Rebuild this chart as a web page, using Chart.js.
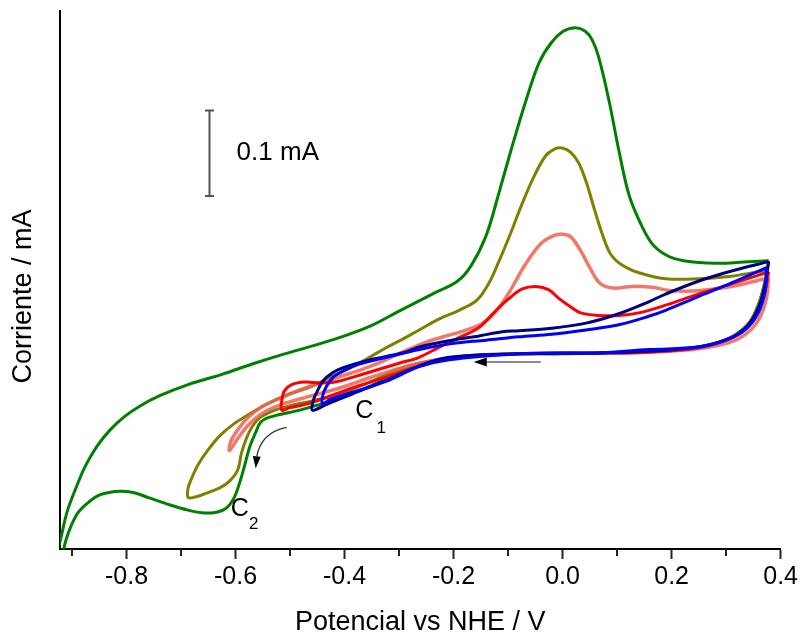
<!DOCTYPE html>
<html><head><meta charset="utf-8">
<script src="https://cdn.jsdelivr.net/npm/chart.js@4.4.0/dist/chart.umd.min.js"></script>
<style>html,body{margin:0;padding:0;background:#fff;}canvas{display:block;}</style>
</head><body>
<canvas id="c" width="801" height="634"></canvas>
<script>
// ---- Data (potential in V vs NHE, current in mA, arbitrary zero) ----
const xMajorTicks = [-0.8, -0.6, -0.4, -0.2, 0.0, 0.2, 0.4];
const xMinorTicks = [-0.9, -0.7, -0.5, -0.3, -0.1, 0.1, 0.3];

const greenE = [0.378,0.372,0.361,0.343,0.313,0.268,0.213,0.140,0.066,0.000,-0.080,-0.153,-0.208,-0.263,-0.294,-0.354,-0.415,-0.477,-0.537,-0.554,-0.563,-0.574,-0.583,-0.592,-0.603,-0.618,-0.640,-0.662,-0.687,-0.720,-0.757,-0.784,-0.808,-0.830,-0.852,-0.872,-0.889,-0.902,-0.911,-0.918,-0.921,-0.929,-0.924,-0.918,-0.909,-0.894,-0.876,-0.854,-0.830,-0.805,-0.775,-0.739,-0.687,-0.625,-0.565,-0.510,-0.455,-0.400,-0.351,-0.300,-0.239,-0.193,-0.168,-0.140,-0.117,-0.093,-0.067,-0.043,-0.021,0.002,0.024,0.041,0.054,0.066,0.085,0.103,0.121,0.140,0.163,0.189,0.222,0.281,0.341,0.378];
const greenI = [0.108,0.085,0.060,0.036,0.020,0.009,0.004,0.001,0.000,-0.001,-0.001,-0.002,-0.006,-0.013,-0.021,-0.039,-0.054,-0.066,-0.075,-0.081,-0.093,-0.110,-0.131,-0.151,-0.170,-0.182,-0.187,-0.187,-0.184,-0.178,-0.170,-0.164,-0.162,-0.163,-0.167,-0.176,-0.187,-0.203,-0.219,-0.238,-0.249,-0.254,-0.228,-0.210,-0.186,-0.160,-0.133,-0.109,-0.090,-0.075,-0.062,-0.050,-0.037,-0.025,-0.012,-0.001,0.009,0.020,0.032,0.049,0.069,0.084,0.102,0.138,0.187,0.241,0.296,0.340,0.363,0.377,0.381,0.377,0.367,0.347,0.296,0.238,0.187,0.156,0.129,0.115,0.108,0.105,0.107,0.108];

const oliveE = [0.374,0.370,0.359,0.341,0.312,0.249,0.176,0.066,-0.080,-0.208,-0.263,-0.300,-0.354,-0.409,-0.459,-0.501,-0.532,-0.556,-0.570,-0.580,-0.589,-0.596,-0.611,-0.629,-0.653,-0.676,-0.687,-0.687,-0.680,-0.669,-0.651,-0.629,-0.603,-0.578,-0.543,-0.501,-0.464,-0.428,-0.391,-0.354,-0.327,-0.294,-0.263,-0.226,-0.190,-0.157,-0.135,-0.117,-0.096,-0.076,-0.053,-0.031,-0.014,-0.001,0.015,0.030,0.044,0.059,0.074,0.088,0.109,0.140,0.189,0.249,0.310,0.374];
const oliveI = [0.097,0.080,0.056,0.034,0.019,0.007,0.002,0.000,-0.001,-0.006,-0.012,-0.019,-0.034,-0.048,-0.056,-0.062,-0.068,-0.076,-0.087,-0.100,-0.117,-0.137,-0.150,-0.158,-0.164,-0.169,-0.169,-0.158,-0.146,-0.131,-0.114,-0.097,-0.083,-0.073,-0.060,-0.048,-0.040,-0.029,-0.018,-0.005,0.005,0.016,0.027,0.040,0.050,0.062,0.082,0.107,0.139,0.172,0.206,0.231,0.239,0.240,0.235,0.222,0.199,0.167,0.137,0.116,0.103,0.094,0.087,0.087,0.090,0.097];

const salmonE = [0.378,0.374,0.363,0.345,0.313,0.249,0.158,0.066,-0.080,-0.208,-0.263,-0.300,-0.354,-0.409,-0.477,-0.519,-0.552,-0.576,-0.596,-0.611,-0.609,-0.596,-0.578,-0.552,-0.519,-0.477,-0.415,-0.354,-0.294,-0.245,-0.208,-0.181,-0.149,-0.122,-0.098,-0.069,-0.040,-0.014,0.001,0.015,0.032,0.050,0.068,0.092,0.127,0.163,0.200,0.249,0.310,0.378];
const salmonI = [0.088,0.064,0.043,0.027,0.014,0.005,0.001,0.000,-0.001,-0.006,-0.012,-0.018,-0.029,-0.041,-0.053,-0.061,-0.071,-0.084,-0.100,-0.114,-0.104,-0.090,-0.076,-0.063,-0.053,-0.042,-0.029,-0.016,0.001,0.014,0.021,0.026,0.034,0.049,0.071,0.103,0.128,0.138,0.139,0.136,0.121,0.100,0.082,0.076,0.078,0.077,0.073,0.073,0.078,0.088];

const redE = [0.378,0.372,0.361,0.343,0.312,0.249,0.158,0.066,-0.080,-0.208,-0.263,-0.323,-0.386,-0.446,-0.477,-0.501,-0.515,-0.515,-0.510,-0.497,-0.473,-0.446,-0.418,-0.373,-0.300,-0.263,-0.226,-0.190,-0.153,-0.122,-0.098,-0.074,-0.049,-0.025,-0.007,0.015,0.033,0.066,0.103,0.140,0.189,0.249,0.310,0.378];
const redI = [0.095,0.074,0.053,0.033,0.018,0.006,0.001,0.000,-0.001,-0.006,-0.015,-0.028,-0.041,-0.055,-0.061,-0.064,-0.067,-0.055,-0.044,-0.037,-0.034,-0.035,-0.034,-0.026,-0.012,-0.005,0.007,0.018,0.030,0.050,0.064,0.075,0.078,0.074,0.064,0.054,0.047,0.044,0.044,0.047,0.056,0.069,0.081,0.095];

const navyE = [0.378,0.372,0.361,0.341,0.310,0.249,0.158,0.066,-0.080,-0.208,-0.263,-0.323,-0.386,-0.433,-0.459,-0.457,-0.451,-0.440,-0.422,-0.397,-0.354,-0.294,-0.263,-0.203,-0.153,-0.111,-0.080,-0.020,0.043,0.103,0.158,0.189,0.249,0.310,0.378];
const navyI = [0.107,0.082,0.056,0.033,0.018,0.007,0.002,0.000,-0.001,-0.005,-0.015,-0.032,-0.048,-0.060,-0.067,-0.055,-0.046,-0.033,-0.023,-0.016,-0.008,0.000,0.007,0.015,0.020,0.025,0.026,0.029,0.035,0.046,0.060,0.069,0.084,0.096,0.107];

const blueE = [0.374,0.372,0.359,0.335,0.299,0.249,0.158,0.066,0.000,-0.080,-0.208,-0.263,-0.323,-0.386,-0.428,-0.440,-0.440,-0.433,-0.420,-0.400,-0.373,-0.323,-0.263,-0.203,-0.140,-0.080,-0.020,0.043,0.103,0.158,0.189,0.249,0.310,0.374];
const blueI = [0.100,0.074,0.047,0.027,0.015,0.007,0.004,0.000,0.000,-0.001,-0.008,-0.016,-0.033,-0.046,-0.055,-0.060,-0.050,-0.039,-0.028,-0.020,-0.013,-0.005,0.004,0.011,0.015,0.019,0.022,0.027,0.033,0.043,0.050,0.066,0.082,0.100];

// ---- Annotation anchors (data coordinates) ----
const scaleBar = { x: -0.648, y0: 0.184, len: 0.1, label: '0.1 mA', labelX: -0.598 };
const sweepArrow = { y: -0.0105, xFrom: -0.040, xTo: -0.163 };
const curvedArrow = { s: [-0.506, -0.087], c: [-0.553, -0.093], e: [-0.561, -0.121], tip: [-0.563, -0.135] };
const peakLabels = [
  { main: 'C', sub: '1', x: -0.3636, y: -0.0679, sx: -0.3326, sy: -0.0878 },
  { main: 'C', sub: '2', x: -0.5923, y: -0.1827, sx: -0.5667, sy: -0.2002 }
];

function zip(E, I) {
  const n = Math.min(E.length, I.length);
  const out = [];
  for (let i = 0; i < n; i++) out.push({ x: E[i], y: I[i] });
  return out;
}

const FONT = '"Liberation Sans", Arial, Helvetica, sans-serif';

function ds(E, I, color, width) {
  return { data: zip(E, I), borderColor: color, borderWidth: width, showLine: true,
           pointRadius: 0, tension: 0.35, fill: false, clip: 0 };
}

const annotPlugin = {
  id: 'annot',
  afterDraw(chart) {
    const { ctx, chartArea } = chart;
    const xs = chart.scales.x, ys = chart.scales.y;
    const px = v => xs.getPixelForValue(v), py = v => ys.getPixelForValue(v);
    ctx.save();
    // minor ticks
    ctx.strokeStyle = '#222'; ctx.lineWidth = 2;
    xMinorTicks.forEach(v => {
      const X = Math.round(px(v));
      ctx.beginPath(); ctx.moveTo(X, chartArea.bottom); ctx.lineTo(X, chartArea.bottom + 7); ctx.stroke();
    });
    // y title
    ctx.save();
    ctx.translate(chartArea.left - 36.5, (chartArea.top + chartArea.bottom) / 2 + 16.5);
    ctx.rotate(-Math.PI / 2);
    ctx.fillStyle = '#000'; ctx.font = '27px ' + FONT;
    ctx.textAlign = 'center'; ctx.textBaseline = 'middle';
    ctx.fillText('Corriente / mA', 0, 0);
    ctx.restore();
    // scale bar
    const bx = Math.round(px(scaleBar.x)) + 0.5;
    const b0 = py(scaleBar.y0), b1 = py(scaleBar.y0 + scaleBar.len);
    ctx.strokeStyle = '#555'; ctx.lineWidth = 2;
    ctx.beginPath();
    ctx.moveTo(bx, b0); ctx.lineTo(bx, b1);
    ctx.moveTo(bx - 4.5, b0); ctx.lineTo(bx + 4.5, b0);
    ctx.moveTo(bx - 4.5, b1); ctx.lineTo(bx + 4.5, b1);
    ctx.stroke();
    ctx.fillStyle = '#000'; ctx.font = '26px ' + FONT;
    ctx.textAlign = 'left'; ctx.textBaseline = 'middle';
    ctx.fillText(scaleBar.label, px(scaleBar.labelX), (b0 + b1) / 2);
    // sweep direction arrow
    const ay = py(sweepArrow.y);
    const ax0 = px(sweepArrow.xFrom), axTip = px(sweepArrow.xTo);
    ctx.strokeStyle = '#8a8a8a'; ctx.lineWidth = 2;
    ctx.beginPath(); ctx.moveTo(ax0, ay); ctx.lineTo(axTip + 10, ay); ctx.stroke();
    ctx.fillStyle = '#000';
    ctx.beginPath(); ctx.moveTo(axTip, ay); ctx.lineTo(axTip + 13, ay - 4.5); ctx.lineTo(axTip + 13, ay + 4.5); ctx.closePath(); ctx.fill();
    // curved arrow
    const S = [px(curvedArrow.s[0]), py(curvedArrow.s[1])];
    const C = [px(curvedArrow.c[0]), py(curvedArrow.c[1])];
    const E = [px(curvedArrow.e[0]), py(curvedArrow.e[1])];
    const T = [px(curvedArrow.tip[0]), py(curvedArrow.tip[1])];
    ctx.strokeStyle = '#333'; ctx.lineWidth = 1.3;
    ctx.beginPath(); ctx.moveTo(S[0], S[1]); ctx.quadraticCurveTo(C[0], C[1], E[0], E[1]); ctx.stroke();
    const dx = T[0] - E[0], dy = T[1] - E[1], L = Math.hypot(dx, dy);
    const nx = -dy / L * 4, ny = dx / L * 4;
    ctx.fillStyle = '#000';
    ctx.beginPath(); ctx.moveTo(T[0], T[1]); ctx.lineTo(E[0] + nx, E[1] + ny); ctx.lineTo(E[0] - nx, E[1] - ny); ctx.closePath(); ctx.fill();
    // peak labels
    peakLabels.forEach(l => {
      ctx.fillStyle = '#000'; ctx.textAlign = 'center'; ctx.textBaseline = 'middle';
      ctx.font = '25px ' + FONT; ctx.fillText(l.main, px(l.x), py(l.y));
      ctx.font = '17px ' + FONT; ctx.fillText(l.sub, px(l.sx), py(l.sy));
    });
    ctx.restore();
  }
};

new Chart(document.getElementById('c'), {
  type: 'scatter',
  data: {
    datasets: [
      ds(blueE, blueI, '#0000ff', 3),
      ds(navyE, navyI, '#000080', 3),
      ds(redE, redI, '#ff0000', 3),
      ds(salmonE, salmonI, 'rgba(240,96,80,0.85)', 3.5),
      ds(oliveE, oliveI, '#808000', 3),
      ds(greenE, greenI, '#008000', 3)
    ]
  },
  options: {
    responsive: false,
    animation: false,
    devicePixelRatio: 1,
    layout: { padding: { top: 11, right: 19.3, left: 0, bottom: 0 } },
    plugins: { legend: { display: false }, tooltip: { enabled: false } },
    scales: {
      x: {
        type: 'linear', position: 'bottom', min: -0.922, max: 0.4,
        afterFit: s => { s.height = 85; },
        afterBuildTicks: s => { s.ticks = xMajorTicks.map(v => ({ value: v })); },
        ticks: {
          font: { family: FONT, size: 25 }, color: '#000', padding: 3, maxRotation: 0, autoSkip: false,
          callback: v => { const r = Math.round(v * 10) / 10; return (Math.abs(r) < 1e-9 ? 0 : r).toFixed(1); }
        },
        grid: { display: true, drawOnChartArea: false, drawTicks: true, tickLength: 10, tickWidth: 2, tickColor: '#222' },
        border: { display: true, color: '#000', width: 2 },
        title: { display: true, text: 'Potencial vs NHE / V', color: '#000',
                 font: { family: FONT, size: 27, lineHeight: 0.85 }, padding: 0 }
      },
      y: {
        type: 'linear', position: 'left', min: -0.2295, max: 0.4005,
        afterFit: s => { s.width = 60; },
        ticks: { display: false },
        grid: { display: false, drawTicks: false },
        border: { display: true, color: '#000', width: 2 },
        title: { display: false }
      }
    }
  },
  plugins: [annotPlugin]
});
</script>
</body></html>
